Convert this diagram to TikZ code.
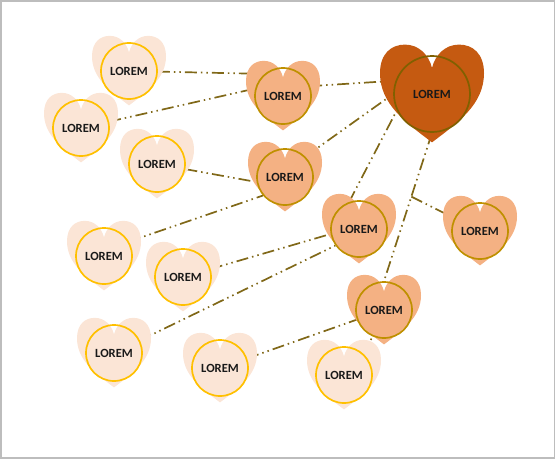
\documentclass[tikz,border=0pt]{standalone}
\usepackage{fontspec}
\setmainfont{Carlito}
\usepackage{tikz}
\usetikzlibrary{backgrounds}

\definecolor{rootheart}{HTML}{C55A11}
\definecolor{rootring}{HTML}{806000}
\definecolor{midheart}{HTML}{F4B183}
\definecolor{midring}{HTML}{BF9000}
\definecolor{leafheart}{HTML}{FBE5D6}
\definecolor{leafring}{HTML}{FFC000}
\definecolor{linkc}{HTML}{806818}
\definecolor{framec}{HTML}{BDBDBD}

\begin{document}
\begin{tikzpicture}[
    x=1pt, y=-1pt,
    ring/.style={circle, inner sep=0pt, line width=1.7pt, text=black!90, font=\bfseries\fontsize{12.5}{14}\selectfont},
    rootnode/.style={ring, draw=rootring, minimum size=76pt},
    midnode/.style={ring, draw=midring, minimum size=56pt},
    leafnode/.style={ring, draw=leafring, minimum size=56pt},
    link/.style={draw=linkc, line width=1.7pt, dash pattern=on 12pt off 4pt on 1.5pt off 4pt on 1.5pt off 4pt},
    pics/heart/.style={code={
        \fill[#1] (0,0.93) .. controls (-0.5,0.55) and (-1,0.2) .. (-1,-0.4)
            .. controls (-1,-0.78) and (-0.78,-0.95) .. (-0.52,-0.95)
            .. controls (-0.25,-0.95) and (-0.06,-0.75) .. (0,-0.5)
            .. controls (0.06,-0.75) and (0.25,-0.95) .. (0.52,-0.95)
            .. controls (0.78,-0.95) and (1,-0.78) .. (1,-0.4)
            .. controls (1,0.2) and (0.5,0.55) .. (0,0.93) -- cycle;
    }}
]

\useasboundingbox (0,0) rectangle (556,460);
\draw[framec, line width=1.2pt] (1,1) rectangle (554.5,458);

% root
\pic[scale=52] at (432,94) {heart=rootheart};
\node[rootnode] (root) at (432,94) {LOREM};

% second level
\foreach \n/\x/\y in {m1/283/96, m2/285/177, m3/359/229, m4/480/231, m5/384/310} {
    \pic[scale=37] at (\x,\y) {heart=midheart};
    \node[midnode] (\n) at (\x,\y) {LOREM};
}

% leaves
\foreach \n/\x/\y in {l1/129/71, l2/81/128, l3/157/164, l4/104/256, l5/183/277, l6/114/353, l7/220/368, l8/344/375} {
    \pic[scale=37] at (\x,\y) {heart=leafheart};
    \node[leafnode] (\n) at (\x,\y) {LOREM};
}

% connectors
\begin{scope}[on background layer]
\draw[link] (m1.20) -- (root.160);
\draw[link] (m2.45) -- (root.180);
\draw[link] (m3.110) -- (root.205);
\draw[link] (root.south) -- coordinate[pos=0.43] (fork) (m5.north);
\draw[link] (fork) -- (m4);

\draw[link] (l1) -- (m1.130);
\draw[link] (l2) -- (m1.165);
\draw[link] (l3) -- (m2.190);
\draw[link] (l4.30) -- (m2.220);
\draw[link] (l5) -- (m3.190);
\draw[link] (l6) -- (m3.215);
\draw[link] (l7) -- (m5);
\draw[link] (l8.45) -- (m5);
\end{scope}

\end{tikzpicture}
\end{document}
